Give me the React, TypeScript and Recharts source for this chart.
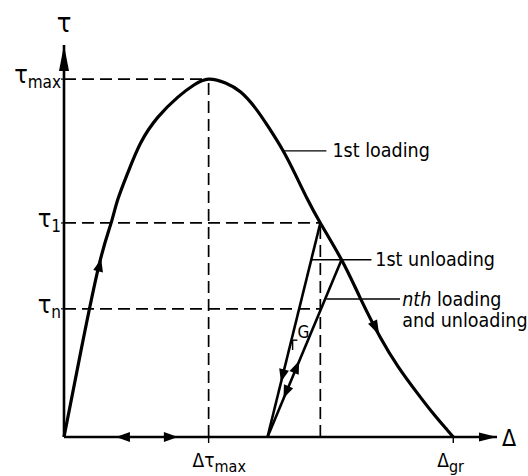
import React from 'react';
import { ComposedChart, Line, XAxis, YAxis, ReferenceLine, ReferenceDot } from 'recharts';

// ---------- data (arbitrary units 0..10) ----------
const TAU_MAX = 9.13;
const TAU_1 = 5.46;
const TAU_N = 3.27;
const D_TAU_MAX = 3.34;
const D_1 = 5.92;
const D_GR = 8.99;
const D_RES = 4.7; // residual displacement where unloading lines meet the axis
const P2_X = 6.41; // point where 1st unloading meets the loading curve again
const P2_Y = 4.52;

const loadingX = [0, 0.39, 0.81, 1.08, 1.24, 1.47, 1.77, 2.17, 2.63, 3.0, 3.34, 3.73, 4.08, 4.42, 4.72, 5.05, 5.35, 5.62, 5.92, 6.41, 6.84, 7.3, 7.72, 8.16, 8.57, 8.85, 8.99];
const loadingY = [0, 2.19, 4.39, 5.43, 6.05, 6.73, 7.5, 8.16, 8.67, 8.98, 9.13, 9.03, 8.8, 8.39, 7.91, 7.32, 6.68, 6.07, 5.46, 4.52, 3.55, 2.55, 1.79, 1.12, 0.54, 0.18, 0];

const unloading1X = [D_RES, D_1];
const unloading1Y = [0, TAU_1];
const nthX = [D_RES, P2_X];
const nthY = [0, P2_Y];

const yTickValues = [TAU_N, TAU_1, TAU_MAX];
const yTickSubs = ['n', '1', 'max'];
const xTickValues = [D_TAU_MAX, D_GR];
const xTickSubs = ['max', 'gr'];
const xTickMains = ['Δτ', 'Δ'];

const LABEL_1ST_LOADING = '1st loading';
const LABEL_1ST_UNLOADING = '1st unloading';
const LABEL_NTH_1 = 'loading';
const LABEL_NTH_2 = 'and unloading';

const loadingData = loadingX.map((x, i) => ({ x, y: loadingY[i] }));
const unloading1Data = unloading1X.map((x, i) => ({ x, y: unloading1Y[i] }));
const nthData = nthX.map((x, i) => ({ x, y: nthY[i] }));

// ---------- layout ----------
const W = 528;
const H = 476;
const MARGIN = { top: 45, right: 31, left: 0, bottom: 0 };
const Y_AXIS_W = 64;
const X_AXIS_H = 39;
const X_DOMAIN: [number, number] = [0, 10];
const Y_DOMAIN: [number, number] = [0, 10];
const PLOT_W = W - MARGIN.left - MARGIN.right - Y_AXIS_W;
const PLOT_H = H - MARGIN.top - MARGIN.bottom - X_AXIS_H;
const PX_PER_X = PLOT_W / (X_DOMAIN[1] - X_DOMAIN[0]);
const PX_PER_Y = PLOT_H / (Y_DOMAIN[1] - Y_DOMAIN[0]);

const FONT = '"DejaVu Sans Condensed", "DejaVu Sans", sans-serif';
const INK = '#000';
const ANN_SIZE = 19.5;

// arrowhead with its tip at the dot, pointing along the data direction (dx, dy)
const arrowShape = (dx: number, dy: number, len: number, wid: number) => (props: any) => {
  const { cx, cy } = props;
  if (cx == null || cy == null) return <g />;
  const a = Math.atan2(-dy * PX_PER_Y, dx * PX_PER_X);
  const c = Math.cos(a);
  const s = Math.sin(a);
  const bx = cx - len * c;
  const by = cy - len * s;
  const ox = (-s * wid) / 2;
  const oy = (c * wid) / 2;
  return <polygon points={`${cx},${cy} ${bx + ox},${by + oy} ${bx - ox},${by - oy}`} fill={INK} />;
};

const textShape = (content: React.ReactNode, size = ANN_SIZE, anchor: any = 'start') => (props: any) => {
  const { cx, cy } = props;
  if (cx == null || cy == null) return <g />;
  return (
    <text x={cx} y={cy} fontFamily={FONT} fontSize={size} fill={INK} textAnchor={anchor} dominantBaseline="central">
      {content}
    </text>
  );
};

const YTick = (props: any) => {
  const { x, y, payload } = props;
  const i = yTickValues.indexOf(payload.value);
  const sub = yTickSubs[i] ?? '';
  return (
    <text x={x} y={y + 4} fontFamily={FONT} fill={INK} textAnchor="end">
      <tspan fontSize={25}>τ</tspan>
      <tspan fontSize={17} dy={5}>{sub}</tspan>
    </text>
  );
};

const XTick = (props: any) => {
  const { x, y, payload } = props;
  const i = xTickValues.indexOf(payload.value);
  const main = xTickMains[i] ?? '';
  const sub = xTickSubs[i] ?? '';
  return (
    <text x={x - 16} y={y + 24} fontFamily={FONT} fill={INK} textAnchor="start">
      <tspan fontSize={19}>{main}</tspan>
      <tspan fontSize={16} dy={5}>{sub}</tspan>
    </text>
  );
};

const dash = { stroke: INK, strokeWidth: 1.7, strokeDasharray: '12 6' };
const thin = { stroke: INK, strokeWidth: 1.4 };

export default function App() {
  return (
    <div style={{ position: 'absolute', left: 0, top: 0, background: '#fff' }}>
      <ComposedChart width={W} height={H} margin={MARGIN}>
        <XAxis
          type="number"
          dataKey="x"
          domain={X_DOMAIN}
          ticks={xTickValues}
          interval={0}
          height={X_AXIS_H}
          axisLine={{ stroke: INK, strokeWidth: 2.6 }}
          tickLine={{ stroke: INK, strokeWidth: 1.4 }}
          tickSize={6}
          tickMargin={0}
          tick={<XTick />}
          label={{
            content: (p: any) => {
              const vb = p.viewBox || {};
              return (
                <text x={vb.x + vb.width + 5} y={vb.y + 1} fontFamily={FONT} fontSize={23} fill={INK} dominantBaseline="central">
                  Δ
                </text>
              );
            },
          }}
        />
        <YAxis
          type="number"
          dataKey="y"
          domain={Y_DOMAIN}
          ticks={yTickValues}
          interval={0}
          width={Y_AXIS_W}
          axisLine={{ stroke: INK, strokeWidth: 2.6 }}
          tickLine={{ stroke: INK, strokeWidth: 1.2 }}
          tickSize={3}
          tickMargin={0}
          tick={<YTick />}
          label={{
            content: (p: any) => {
              const vb = p.viewBox || {};
              return (
                <text x={vb.x + vb.width} y={vb.y - 23} fontFamily={FONT} fontSize={27} fill={INK} textAnchor="middle" dominantBaseline="central">
                  τ
                </text>
              );
            },
          }}
        />

        {/* dashed guide lines */}
        <ReferenceLine segment={[{ x: 0, y: TAU_MAX }, { x: D_TAU_MAX, y: TAU_MAX }]} {...dash} />
        <ReferenceLine segment={[{ x: D_TAU_MAX, y: 0 }, { x: D_TAU_MAX, y: TAU_MAX }]} {...dash} />
        <ReferenceLine segment={[{ x: 0, y: TAU_1 }, { x: D_1, y: TAU_1 }]} {...dash} />
        <ReferenceLine segment={[{ x: D_1, y: 0 }, { x: D_1, y: TAU_1 }]} {...dash} />
        <ReferenceLine segment={[{ x: 0, y: TAU_N }, { x: 5.94, y: TAU_N }]} {...dash} />

        {/* leader lines */}
        <ReferenceLine segment={[{ x: 5.05, y: 7.3 }, { x: 6.06, y: 7.3 }]} {...thin} />
        <ReferenceLine segment={[{ x: 5.71, y: P2_Y }, { x: 7.1, y: P2_Y }]} {...thin} />
        <ReferenceLine segment={[{ x: 6.06, y: 3.52 }, { x: 7.76, y: 3.52 }]} {...thin} />
        {/* small slope mark next to G */}
        <ReferenceLine segment={[{ x: 5.28, y: 2.22 }, { x: 5.28, y: 2.47 }]} {...thin} />
        <ReferenceLine segment={[{ x: 5.28, y: 2.47 }, { x: 5.39, y: 2.47 }]} {...thin} />

        {/* curves */}
        <Line data={loadingData} dataKey="y" type="natural" stroke={INK} strokeWidth={3.2} dot={false} isAnimationActive={false} />
        <Line data={unloading1Data} dataKey="y" type="linear" stroke={INK} strokeWidth={2.6} dot={false} isAnimationActive={false} />
        <Line data={nthData} dataKey="y" type="linear" stroke={INK} strokeWidth={2.6} dot={false} isAnimationActive={false} />

        {/* arrowheads */}
        <ReferenceDot x={0} y={10} r={0} shape={arrowShape(0, 1, 26, 10)} />
        <ReferenceDot x={10} y={0} r={0} shape={arrowShape(1, 0, 18, 9)} />
        <ReferenceDot x={0.86} y={4.55} r={0} shape={arrowShape(0.5, 2.2, 13, 10)} />
        <ReferenceDot x={7.28} y={2.6} r={0} shape={arrowShape(0.45, -1.0, 15, 10)} />
        <ReferenceDot x={1.2} y={0} r={0} shape={arrowShape(-1, 0, 14, 10)} />
        <ReferenceDot x={2.63} y={0} r={0} shape={arrowShape(1, 0, 14, 10)} />
        <ReferenceDot x={5.01} y={1.4} r={0} shape={arrowShape(-(D_1 - D_RES), -TAU_1, 13, 10)} />
        <ReferenceDot x={5.07} y={0.99} r={0} shape={arrowShape(-(P2_X - D_RES), -P2_Y, 13, 10)} />
        <ReferenceDot x={5.43} y={1.94} r={0} shape={arrowShape(P2_X - D_RES, P2_Y, 13, 10)} />

        {/* annotations */}
        <ReferenceDot x={6.2} y={7.3} r={0} shape={textShape(LABEL_1ST_LOADING)} />
        <ReferenceDot x={7.19} y={P2_Y} r={0} shape={textShape(LABEL_1ST_UNLOADING)} />
        <ReferenceDot
          x={7.81}
          y={3.52}
          r={0}
          shape={textShape(
            <>
              <tspan fontStyle="italic">nth</tspan> {LABEL_NTH_1}
            </>
          )}
        />
        <ReferenceDot x={7.81} y={2.96} r={0} shape={textShape(LABEL_NTH_2)} />
        <ReferenceDot x={5.53} y={2.68} r={0} shape={textShape('G', 17, 'middle')} />
      </ComposedChart>
    </div>
  );
}
